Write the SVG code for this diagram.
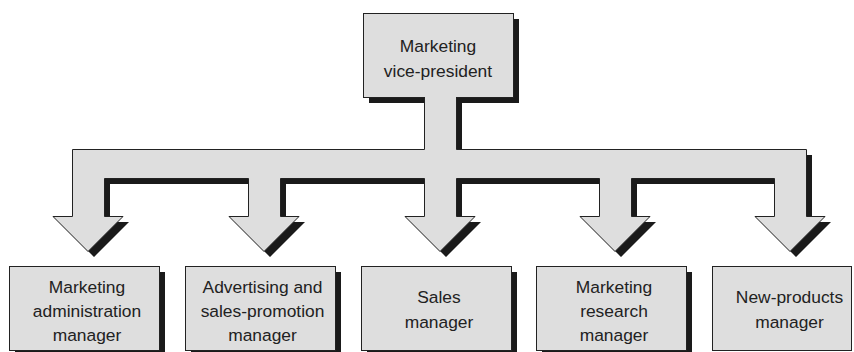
<svg xmlns="http://www.w3.org/2000/svg" width="854" height="352" viewBox="0 0 854 352">
<style>
.box{fill:#dedede;stroke:#222;stroke-width:1}
.sh{fill:#1a1a1a}
.conn{fill:#dedede;stroke:#222;stroke-width:1;stroke-linejoin:miter}
.connsh{fill:#1a1a1a}
text{font-family:"Liberation Sans",Arial,sans-serif;font-size:17.4px;fill:#222;text-anchor:middle}
</style>
<rect width="854" height="352" fill="#fff"/>
<g id="vp">
<rect class="sh" x="369" y="19" width="150" height="84"/>
<rect class="box" x="363.5" y="13.5" width="150" height="84"/>
<text x="438" y="52">Marketing</text>
<text x="438" y="77">vice-president</text>
</g>
<g id="connectors">
<path class="connsh" transform="translate(6,6)" d="M424 97 L424 149 L72 149 L72 216 L53 216 L88 251 L123 216 L104 216 L104 178 L248 178 L248 216 L229 216 L264 251 L299 216 L280 216 L280 178 L424 178 L424 216 L405 216 L440 251 L475 216 L456 216 L456 178 L599 178 L599 216 L580 216 L615 251 L650 216 L631 216 L631 178 L774 178 L774 216 L755 216 L790 251 L825 216 L806 216 L806 149 L456 149 L456 97 Z"/>
<path class="conn" d="M424.5 97 L424.5 149.5 L72.5 149.5 L72.5 216.5 L53 216.5 L88 251.5 L123 216.5 L104.5 216.5 L104.5 178.5 L248.5 178.5 L248.5 216.5 L229 216.5 L264 251.5 L299 216.5 L280.5 216.5 L280.5 178.5 L424.5 178.5 L424.5 216.5 L405 216.5 L440 251.5 L475 216.5 L456.5 216.5 L456.5 178.5 L599.5 178.5 L599.5 216.5 L580 216.5 L615 251.5 L650 216.5 L631.5 216.5 L631.5 178.5 L774.5 178.5 L774.5 216.5 L755 216.5 L790 251.5 L825 216.5 L806.5 216.5 L806.5 149.5 L456.5 149.5 L456.5 97"/>
</g>
<g id="admin">
<rect class="sh" x="15" y="272" width="150" height="84"/>
<rect class="box" x="9.5" y="266.5" width="150" height="84"/>
<text x="87" y="293">Marketing</text>
<text x="87" y="317">administration</text>
<text x="87" y="341">manager</text>
</g>
<g id="advertising">
<rect class="sh" x="191" y="272" width="150" height="84"/>
<rect class="box" x="185.5" y="266.5" width="150" height="84"/>
<text x="262.5" y="293">Advertising and</text>
<text x="262.5" y="317">sales-promotion</text>
<text x="262.5" y="341">manager</text>
</g>
<g id="sales">
<rect class="sh" x="367" y="272" width="150" height="84"/>
<rect class="box" x="361.5" y="266.5" width="150" height="84"/>
<text x="439" y="303">Sales</text>
<text x="439" y="328">manager</text>
</g>
<g id="research">
<rect class="sh" x="542" y="272" width="150" height="84"/>
<rect class="box" x="536.5" y="266.5" width="150" height="84"/>
<text x="614" y="293">Marketing</text>
<text x="614" y="317">research</text>
<text x="614" y="341">manager</text>
</g>
<g id="newproducts">
<rect class="sh" x="858" y="272" width="10" height="84"/>
<rect class="box" x="712.5" y="266.5" width="139" height="84"/>
<text x="789.5" y="303">New-products</text>
<text x="789.5" y="328">manager</text>
</g>
</svg>
